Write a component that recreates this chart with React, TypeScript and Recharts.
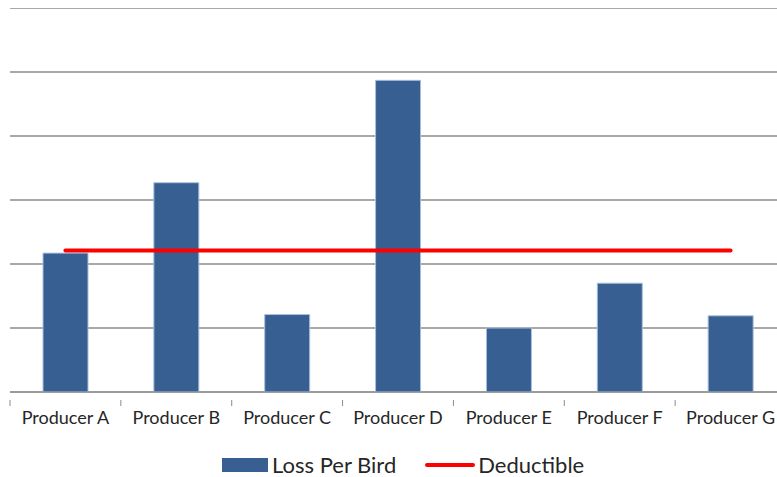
import { ComposedChart, Bar, Line, XAxis, YAxis, CartesianGrid, Legend } from "recharts";

// Loss per bird by producer, with a flat deductible line across all of them.

const producers = ["Producer A", "Producer B", "Producer C", "Producer D", "Producer E", "Producer F", "Producer G"];
const lossPerBird = [2.17, 3.27, 1.21, 4.87, 1.0, 1.7, 1.19];
const deductible = [2.21, 2.21, 2.21, 2.21, 2.21, 2.21, 2.21];
const yTicks = [0, 1, 2, 3, 4, 5, 6];

const data = producers.map((name, i) => ({ name, loss: lossPerBird[i], deductible: deductible[i] }));

const CHART_W = 780;
const CHART_H = 469;
const MARGIN = { top: 0, right: 2, left: 2, bottom: 0 };
const BAND = (CHART_W - MARGIN.left - MARGIN.right) / producers.length;

const BAR_FILL = "#375F91";
const BAR_STROKE = "#A9C0DD";
const AXIS_GRAY = "#8C8C8C";
const FONT = "Lato, 'Noto Sans', sans-serif";

function ProducerTick(props: any) {
  const { x, y, payload } = props;
  const left = x - BAND / 2;
  return (
    <g>
      <line x1={left} y1={y} x2={left} y2={y + 6} stroke={AXIS_GRAY} strokeWidth={1} />
      <text x={x} y={y} dy={24} textAnchor="middle" fill="#262626" fontSize={18} fontFamily={FONT}>
        {payload.value}
      </text>
    </g>
  );
}

function ChartLegend() {
  return (
    <div
      style={{
        height: 35,
        paddingTop: 10,
        boxSizing: "border-box",
        display: "flex",
        justifyContent: "flex-start",
        alignItems: "center",
        paddingLeft: 212,
        fontFamily: FONT,
        fontSize: 22,
        color: "#262626",
      }}
    >
      <span style={{ display: "inline-block", width: 46, height: 14, background: BAR_FILL, marginRight: 4 }} />
      <span>Loss Per Bird</span>
      <span
        style={{
          display: "inline-block",
          width: 50,
          height: 4,
          borderRadius: 2,
          background: "#FF0000",
          marginLeft: 29,
          marginRight: 3,
        }}
      />
      <span>Deductible</span>
    </div>
  );
}

export default function App() {
  // the plot runs off the right edge, so take over the whole window
  return (
    <div
      style={{
        width: 777,
        height: 477,
        overflow: "hidden",
        paddingLeft: 8,
        paddingTop: 8,
        boxSizing: "border-box",
      }}
    >
      <style>{"body{margin:0}"}</style>
      <ComposedChart width={CHART_W} height={CHART_H} data={data} margin={MARGIN} barSize={45}>
        <CartesianGrid vertical={false} stroke={AXIS_GRAY} strokeWidth={1.3} />
        <XAxis
          dataKey="name"
          height={50}
          axisLine={{ stroke: AXIS_GRAY }}
          tickLine={false}
          tick={<ProducerTick />}
          interval={0}
        />
        <YAxis hide domain={[0, 6]} ticks={yTicks} />
        <Legend verticalAlign="bottom" content={() => <ChartLegend />} />
        <Bar dataKey="loss" name="Loss Per Bird" fill={BAR_FILL} stroke={BAR_STROKE} strokeWidth={1} isAnimationActive={false} />
        <Line
          dataKey="deductible"
          name="Deductible"
          stroke="#FF0000"
          strokeWidth={4}
          strokeLinecap="round"
          dot={false}
          activeDot={false}
          isAnimationActive={false}
        />
      </ComposedChart>
    </div>
  );
}
